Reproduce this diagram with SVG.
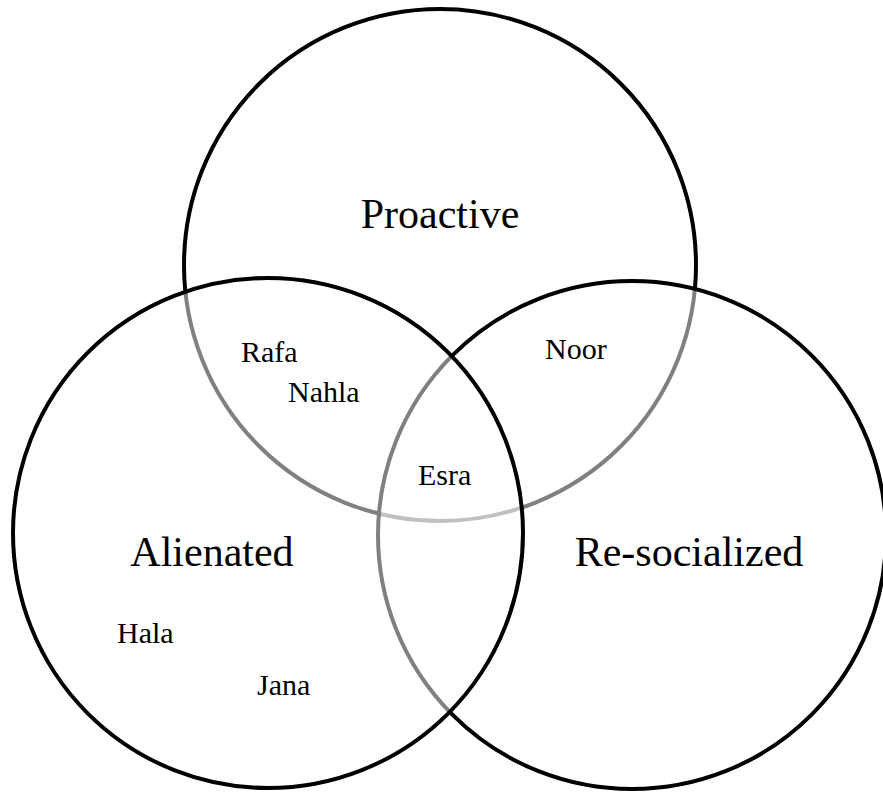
<svg xmlns="http://www.w3.org/2000/svg" width="883" height="793" viewBox="0 0 883 793">
<style>
.c{fill:#fff;fill-opacity:0.5;stroke:#000;stroke-width:4}
.big{font-family:"Liberation Serif","Times New Roman",serif;font-size:42px;fill:#000}
.sm{font-family:"Liberation Serif","Times New Roman",serif;font-size:30px;fill:#000}
</style>
<rect width="883" height="793" fill="#fff"/>
<g id="proactive"><circle class="c" cx="440" cy="265" r="256"/></g>
<g id="resocialized"><circle class="c" cx="632" cy="535" r="254"/></g>
<g id="alienated"><circle class="c" cx="268" cy="533" r="255"/></g>
<g id="labels">
<text class="big" x="440" y="228" text-anchor="middle">Proactive</text>
<text class="big" x="212" y="566" text-anchor="middle">Alienated</text>
<text class="big" x="689" y="566" text-anchor="middle">Re-socialized</text>
<text class="sm" x="241" y="362">Rafa</text>
<text class="sm" x="288" y="402">Nahla</text>
<text class="sm" x="418" y="485">Esra</text>
<text class="sm" x="545" y="359">Noor</text>
<text class="sm" x="117" y="643">Hala</text>
<text class="sm" x="257" y="695">Jana</text>
</g>
<g id="connectors"/>
</svg>
